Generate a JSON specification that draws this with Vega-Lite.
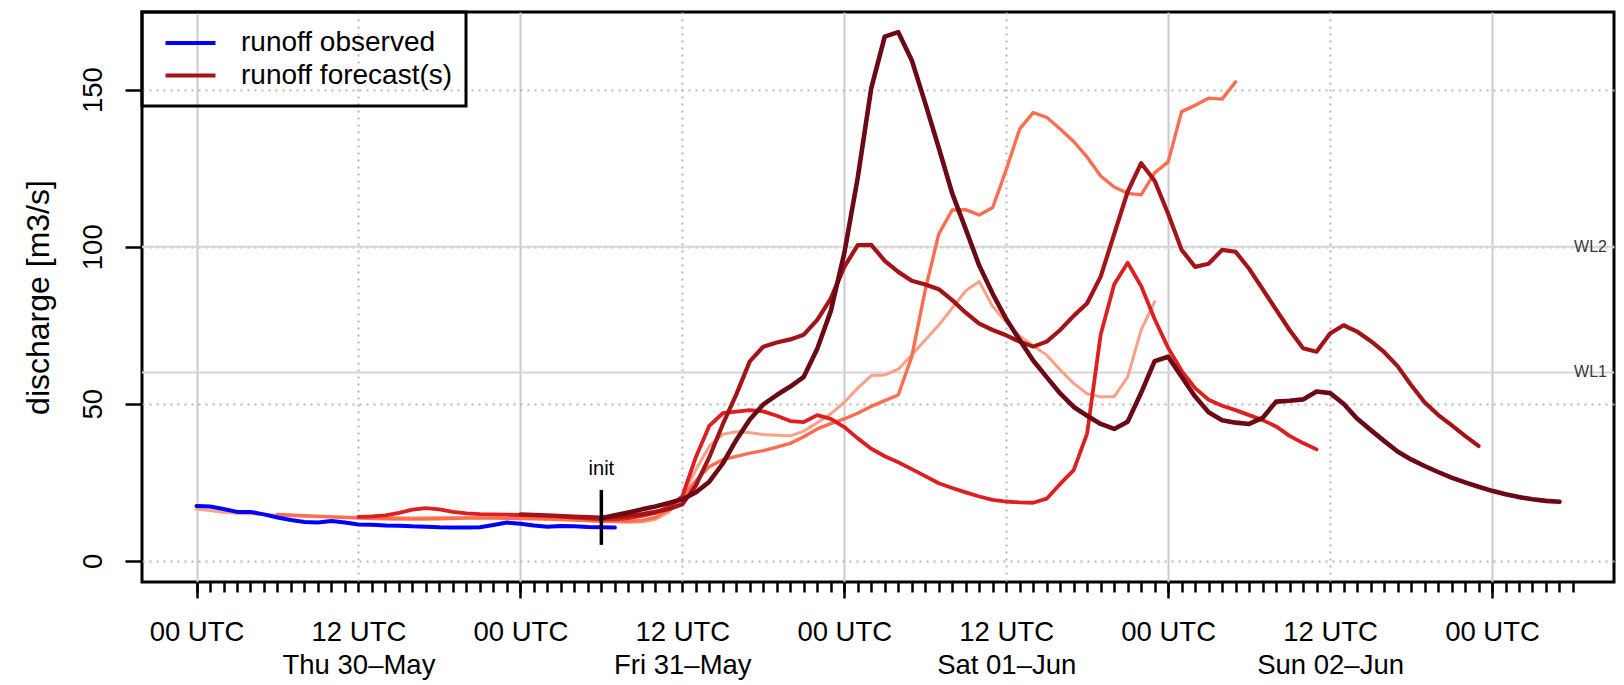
{
  "$schema": "https://vega.github.io/schema/vega-lite/v6.json",
  "width": 1472,
  "height": 570,
  "autosize": {"type": "none"},
  "padding": {"left": 142, "top": 12, "right": 10, "bottom": 103},
  "background": "white",
  "config": {
    "font": "Liberation Sans",
    "view": {"stroke": "black", "strokeWidth": 3},
    "legend": {"strokeWidth": 3}
  },
  "datasets": {
    "levels": [
      {"level": "WL1", "q": 60},
      {"level": "WL2", "q": 100}
    ],
    "init": [
      {"label": "init", "t": "2013-05-31T06:00Z", "lo": 5.1, "hi": 22.6}
    ],
    "series": [
      {"run":"E","t":"2013-05-30T00:00Z","q":16.5},{"run":"E","t":"2013-05-30T01:00Z","q":16.0},{"run":"E","t":"2013-05-30T02:00Z","q":15.5},{"run":"E","t":"2013-05-30T03:00Z","q":15.2},{"run":"E","t":"2013-05-30T04:00Z","q":15.0},{"run":"E","t":"2013-05-30T06:00Z","q":14.5},{"run":"E","t":"2013-05-30T08:00Z","q":14.1},{"run":"E","t":"2013-05-30T10:00Z","q":14.0},{"run":"E","t":"2013-05-30T12:00Z","q":13.9},{"run":"E","t":"2013-05-30T14:00Z","q":13.8},{"run":"E","t":"2013-05-30T16:00Z","q":13.7},{"run":"E","t":"2013-05-30T18:00Z","q":13.8},{"run":"E","t":"2013-05-30T20:00Z","q":13.8},{"run":"E","t":"2013-05-30T22:00Z","q":13.7},
      {"run":"E","t":"2013-05-31T00:00Z","q":13.6},{"run":"E","t":"2013-05-31T02:00Z","q":13.4},{"run":"E","t":"2013-05-31T04:00Z","q":13.1},{"run":"E","t":"2013-05-31T06:00Z","q":12.6},{"run":"E","t":"2013-05-31T08:00Z","q":12.3},{"run":"E","t":"2013-05-31T09:00Z","q":12.4},{"run":"E","t":"2013-05-31T10:00Z","q":13.2},{"run":"E","t":"2013-05-31T11:00Z","q":15.5},{"run":"E","t":"2013-05-31T12:00Z","q":20.5},{"run":"E","t":"2013-05-31T13:00Z","q":29},{"run":"E","t":"2013-05-31T14:00Z","q":36.5},{"run":"E","t":"2013-05-31T15:00Z","q":40.3},{"run":"E","t":"2013-05-31T16:00Z","q":41.1},{"run":"E","t":"2013-05-31T17:00Z","q":40.8},{"run":"E","t":"2013-05-31T18:00Z","q":40.2},{"run":"E","t":"2013-05-31T19:00Z","q":40.0},{"run":"E","t":"2013-05-31T20:00Z","q":39.8},{"run":"E","t":"2013-05-31T21:00Z","q":41.3},{"run":"E","t":"2013-05-31T22:00Z","q":44.0},{"run":"E","t":"2013-05-31T23:00Z","q":46.8},
      {"run":"E","t":"2013-06-01T00:00Z","q":50.5},{"run":"E","t":"2013-06-01T01:00Z","q":55},{"run":"E","t":"2013-06-01T02:00Z","q":59},{"run":"E","t":"2013-06-01T03:00Z","q":59.2},{"run":"E","t":"2013-06-01T04:00Z","q":61},{"run":"E","t":"2013-06-01T05:00Z","q":65.5},{"run":"E","t":"2013-06-01T06:00Z","q":70.3},{"run":"E","t":"2013-06-01T07:00Z","q":75},{"run":"E","t":"2013-06-01T08:00Z","q":80.5},{"run":"E","t":"2013-06-01T09:00Z","q":86},{"run":"E","t":"2013-06-01T10:00Z","q":88.9},{"run":"E","t":"2013-06-01T11:00Z","q":81},{"run":"E","t":"2013-06-01T12:00Z","q":76},{"run":"E","t":"2013-06-01T13:00Z","q":71.5},{"run":"E","t":"2013-06-01T14:00Z","q":68.5},{"run":"E","t":"2013-06-01T15:00Z","q":65.5},{"run":"E","t":"2013-06-01T16:00Z","q":60.8},{"run":"E","t":"2013-06-01T17:00Z","q":56.5},{"run":"E","t":"2013-06-01T18:00Z","q":53.2},{"run":"E","t":"2013-06-01T19:00Z","q":52.2},{"run":"E","t":"2013-06-01T20:00Z","q":52.3},{"run":"E","t":"2013-06-01T21:00Z","q":58.5},{"run":"E","t":"2013-06-01T22:00Z","q":73.5},{"run":"E","t":"2013-06-01T23:00Z","q":82.5},

      {"run":"D","t":"2013-05-30T06:00Z","q":14.8},{"run":"D","t":"2013-05-30T08:00Z","q":14.4},{"run":"D","t":"2013-05-30T10:00Z","q":14.0},{"run":"D","t":"2013-05-30T12:00Z","q":13.6},{"run":"D","t":"2013-05-30T14:00Z","q":13.4},{"run":"D","t":"2013-05-30T16:00Z","q":13.3},{"run":"D","t":"2013-05-30T18:00Z","q":13.4},{"run":"D","t":"2013-05-30T20:00Z","q":13.6},{"run":"D","t":"2013-05-30T22:00Z","q":13.6},
      {"run":"D","t":"2013-05-31T00:00Z","q":13.5},{"run":"D","t":"2013-05-31T02:00Z","q":13.3},{"run":"D","t":"2013-05-31T04:00Z","q":13.0},{"run":"D","t":"2013-05-31T06:00Z","q":12.6},{"run":"D","t":"2013-05-31T08:00Z","q":12.6},{"run":"D","t":"2013-05-31T09:00Z","q":12.9},{"run":"D","t":"2013-05-31T10:00Z","q":13.8},{"run":"D","t":"2013-05-31T11:00Z","q":16.5},{"run":"D","t":"2013-05-31T12:00Z","q":20.5},{"run":"D","t":"2013-05-31T13:00Z","q":25.5},{"run":"D","t":"2013-05-31T14:00Z","q":30},{"run":"D","t":"2013-05-31T15:00Z","q":32.2},{"run":"D","t":"2013-05-31T16:00Z","q":33.3},{"run":"D","t":"2013-05-31T17:00Z","q":34.3},{"run":"D","t":"2013-05-31T18:00Z","q":35.1},{"run":"D","t":"2013-05-31T19:00Z","q":36.2},{"run":"D","t":"2013-05-31T20:00Z","q":37.4},{"run":"D","t":"2013-05-31T21:00Z","q":39.5},{"run":"D","t":"2013-05-31T22:00Z","q":42},{"run":"D","t":"2013-05-31T23:00Z","q":43.7},
      {"run":"D","t":"2013-06-01T00:00Z","q":45.2},{"run":"D","t":"2013-06-01T01:00Z","q":47},{"run":"D","t":"2013-06-01T02:00Z","q":49.2},{"run":"D","t":"2013-06-01T03:00Z","q":51},{"run":"D","t":"2013-06-01T04:00Z","q":52.8},{"run":"D","t":"2013-06-01T05:00Z","q":65},{"run":"D","t":"2013-06-01T06:00Z","q":86.2},{"run":"D","t":"2013-06-01T07:00Z","q":104},{"run":"D","t":"2013-06-01T08:00Z","q":111.7},{"run":"D","t":"2013-06-01T09:00Z","q":111.8},{"run":"D","t":"2013-06-01T10:00Z","q":110.1},{"run":"D","t":"2013-06-01T11:00Z","q":112.5},{"run":"D","t":"2013-06-01T12:00Z","q":124.5},{"run":"D","t":"2013-06-01T13:00Z","q":137.5},{"run":"D","t":"2013-06-01T14:00Z","q":142.7},{"run":"D","t":"2013-06-01T15:00Z","q":141.2},{"run":"D","t":"2013-06-01T16:00Z","q":137.5},{"run":"D","t":"2013-06-01T17:00Z","q":133.5},{"run":"D","t":"2013-06-01T18:00Z","q":128.5},{"run":"D","t":"2013-06-01T19:00Z","q":122.5},{"run":"D","t":"2013-06-01T20:00Z","q":119},{"run":"D","t":"2013-06-01T21:00Z","q":117},{"run":"D","t":"2013-06-01T22:00Z","q":116.5},{"run":"D","t":"2013-06-01T23:00Z","q":123.5},
      {"run":"D","t":"2013-06-02T00:00Z","q":127},{"run":"D","t":"2013-06-02T01:00Z","q":143},{"run":"D","t":"2013-06-02T02:00Z","q":145},{"run":"D","t":"2013-06-02T03:00Z","q":147.3},{"run":"D","t":"2013-06-02T04:00Z","q":147},{"run":"D","t":"2013-06-02T05:00Z","q":152.5},

      {"run":"C","t":"2013-05-30T12:00Z","q":14.0},{"run":"C","t":"2013-05-30T13:00Z","q":14.2},{"run":"C","t":"2013-05-30T14:00Z","q":14.5},{"run":"C","t":"2013-05-30T15:00Z","q":15.3},{"run":"C","t":"2013-05-30T16:00Z","q":16.3},{"run":"C","t":"2013-05-30T17:00Z","q":16.8},{"run":"C","t":"2013-05-30T18:00Z","q":16.4},{"run":"C","t":"2013-05-30T19:00Z","q":15.6},{"run":"C","t":"2013-05-30T20:00Z","q":15.1},{"run":"C","t":"2013-05-30T21:00Z","q":14.9},{"run":"C","t":"2013-05-30T22:00Z","q":14.8},{"run":"C","t":"2013-05-30T23:00Z","q":14.7},
      {"run":"C","t":"2013-05-31T00:00Z","q":14.6},{"run":"C","t":"2013-05-31T02:00Z","q":14.3},{"run":"C","t":"2013-05-31T04:00Z","q":13.8},{"run":"C","t":"2013-05-31T06:00Z","q":13.2},{"run":"C","t":"2013-05-31T07:00Z","q":13.2},{"run":"C","t":"2013-05-31T08:00Z","q":13.6},{"run":"C","t":"2013-05-31T09:00Z","q":14.3},{"run":"C","t":"2013-05-31T10:00Z","q":15.3},{"run":"C","t":"2013-05-31T11:00Z","q":17.2},{"run":"C","t":"2013-05-31T12:00Z","q":20.5},{"run":"C","t":"2013-05-31T13:00Z","q":33},{"run":"C","t":"2013-05-31T14:00Z","q":43},{"run":"C","t":"2013-05-31T15:00Z","q":47},{"run":"C","t":"2013-05-31T16:00Z","q":47.5},{"run":"C","t":"2013-05-31T17:00Z","q":48},{"run":"C","t":"2013-05-31T18:00Z","q":47.6},{"run":"C","t":"2013-05-31T19:00Z","q":46.2},{"run":"C","t":"2013-05-31T20:00Z","q":44.5},{"run":"C","t":"2013-05-31T21:00Z","q":44.2},{"run":"C","t":"2013-05-31T22:00Z","q":46.4},{"run":"C","t":"2013-05-31T23:00Z","q":45.2},
      {"run":"C","t":"2013-06-01T00:00Z","q":42.6},{"run":"C","t":"2013-06-01T01:00Z","q":39},{"run":"C","t":"2013-06-01T02:00Z","q":35.7},{"run":"C","t":"2013-06-01T03:00Z","q":33.3},{"run":"C","t":"2013-06-01T04:00Z","q":31.4},{"run":"C","t":"2013-06-01T05:00Z","q":29.2},{"run":"C","t":"2013-06-01T06:00Z","q":27},{"run":"C","t":"2013-06-01T07:00Z","q":24.7},{"run":"C","t":"2013-06-01T08:00Z","q":23.2},{"run":"C","t":"2013-06-01T09:00Z","q":21.8},{"run":"C","t":"2013-06-01T10:00Z","q":20.5},{"run":"C","t":"2013-06-01T11:00Z","q":19.4},{"run":"C","t":"2013-06-01T12:00Z","q":18.9},{"run":"C","t":"2013-06-01T13:00Z","q":18.6},{"run":"C","t":"2013-06-01T14:00Z","q":18.5},{"run":"C","t":"2013-06-01T15:00Z","q":19.8},{"run":"C","t":"2013-06-01T16:00Z","q":24.5},{"run":"C","t":"2013-06-01T17:00Z","q":28.9},{"run":"C","t":"2013-06-01T18:00Z","q":40.6},{"run":"C","t":"2013-06-01T19:00Z","q":72},{"run":"C","t":"2013-06-01T20:00Z","q":88},{"run":"C","t":"2013-06-01T21:00Z","q":94.9},{"run":"C","t":"2013-06-01T22:00Z","q":87.5},{"run":"C","t":"2013-06-01T23:00Z","q":77},
      {"run":"C","t":"2013-06-02T00:00Z","q":67.8},{"run":"C","t":"2013-06-02T01:00Z","q":60.5},{"run":"C","t":"2013-06-02T02:00Z","q":55},{"run":"C","t":"2013-06-02T03:00Z","q":51.3},{"run":"C","t":"2013-06-02T04:00Z","q":49.4},{"run":"C","t":"2013-06-02T05:00Z","q":48},{"run":"C","t":"2013-06-02T06:00Z","q":46.4},{"run":"C","t":"2013-06-02T07:00Z","q":44.8},{"run":"C","t":"2013-06-02T08:00Z","q":42.8},{"run":"C","t":"2013-06-02T09:00Z","q":39.8},{"run":"C","t":"2013-06-02T10:00Z","q":37.5},{"run":"C","t":"2013-06-02T11:00Z","q":35.5},

      {"run":"B","t":"2013-05-31T00:00Z","q":14.8},{"run":"B","t":"2013-05-31T02:00Z","q":14.5},{"run":"B","t":"2013-05-31T04:00Z","q":14.1},{"run":"B","t":"2013-05-31T06:00Z","q":13.8},{"run":"B","t":"2013-05-31T07:00Z","q":14.0},{"run":"B","t":"2013-05-31T08:00Z","q":14.4},{"run":"B","t":"2013-05-31T09:00Z","q":14.9},{"run":"B","t":"2013-05-31T10:00Z","q":15.6},{"run":"B","t":"2013-05-31T11:00Z","q":16.5},{"run":"B","t":"2013-05-31T12:00Z","q":18},{"run":"B","t":"2013-05-31T13:00Z","q":24},{"run":"B","t":"2013-05-31T14:00Z","q":33},{"run":"B","t":"2013-05-31T15:00Z","q":43.5},{"run":"B","t":"2013-05-31T16:00Z","q":53},{"run":"B","t":"2013-05-31T17:00Z","q":63.5},{"run":"B","t":"2013-05-31T18:00Z","q":68.2},{"run":"B","t":"2013-05-31T19:00Z","q":69.5},{"run":"B","t":"2013-05-31T20:00Z","q":70.5},{"run":"B","t":"2013-05-31T21:00Z","q":72},{"run":"B","t":"2013-05-31T22:00Z","q":76.7},{"run":"B","t":"2013-05-31T23:00Z","q":83.5},
      {"run":"B","t":"2013-06-01T00:00Z","q":93.6},{"run":"B","t":"2013-06-01T01:00Z","q":100.5},{"run":"B","t":"2013-06-01T02:00Z","q":100.6},{"run":"B","t":"2013-06-01T03:00Z","q":95.5},{"run":"B","t":"2013-06-01T04:00Z","q":92},{"run":"B","t":"2013-06-01T05:00Z","q":89.2},{"run":"B","t":"2013-06-01T06:00Z","q":88},{"run":"B","t":"2013-06-01T07:00Z","q":86.5},{"run":"B","t":"2013-06-01T08:00Z","q":83},{"run":"B","t":"2013-06-01T09:00Z","q":79},{"run":"B","t":"2013-06-01T10:00Z","q":75.5},{"run":"B","t":"2013-06-01T11:00Z","q":73.5},{"run":"B","t":"2013-06-01T12:00Z","q":71.8},{"run":"B","t":"2013-06-01T13:00Z","q":69.8},{"run":"B","t":"2013-06-01T14:00Z","q":68.2},{"run":"B","t":"2013-06-01T15:00Z","q":69.8},{"run":"B","t":"2013-06-01T16:00Z","q":73.5},{"run":"B","t":"2013-06-01T17:00Z","q":78},{"run":"B","t":"2013-06-01T18:00Z","q":82},{"run":"B","t":"2013-06-01T19:00Z","q":90.5},{"run":"B","t":"2013-06-01T20:00Z","q":104},{"run":"B","t":"2013-06-01T21:00Z","q":117.5},{"run":"B","t":"2013-06-01T22:00Z","q":126.6},{"run":"B","t":"2013-06-01T23:00Z","q":121},
      {"run":"B","t":"2013-06-02T00:00Z","q":110.5},{"run":"B","t":"2013-06-02T01:00Z","q":99},{"run":"B","t":"2013-06-02T02:00Z","q":93.6},{"run":"B","t":"2013-06-02T03:00Z","q":94.6},{"run":"B","t":"2013-06-02T04:00Z","q":99},{"run":"B","t":"2013-06-02T05:00Z","q":98.4},{"run":"B","t":"2013-06-02T06:00Z","q":93},{"run":"B","t":"2013-06-02T07:00Z","q":86.5},{"run":"B","t":"2013-06-02T08:00Z","q":80},{"run":"B","t":"2013-06-02T09:00Z","q":73.5},{"run":"B","t":"2013-06-02T10:00Z","q":67.7},{"run":"B","t":"2013-06-02T11:00Z","q":66.6},{"run":"B","t":"2013-06-02T12:00Z","q":72.4},{"run":"B","t":"2013-06-02T13:00Z","q":75},{"run":"B","t":"2013-06-02T14:00Z","q":73},{"run":"B","t":"2013-06-02T15:00Z","q":70},{"run":"B","t":"2013-06-02T16:00Z","q":66.5},{"run":"B","t":"2013-06-02T17:00Z","q":62},{"run":"B","t":"2013-06-02T18:00Z","q":56},{"run":"B","t":"2013-06-02T19:00Z","q":50.5},{"run":"B","t":"2013-06-02T20:00Z","q":46.5},{"run":"B","t":"2013-06-02T21:00Z","q":43.2},{"run":"B","t":"2013-06-02T22:00Z","q":39.8},{"run":"B","t":"2013-06-02T23:00Z","q":36.6},

      {"run":"A","t":"2013-05-31T06:00Z","q":13.6},{"run":"A","t":"2013-05-31T07:00Z","q":14.5},{"run":"A","t":"2013-05-31T08:00Z","q":15.4},{"run":"A","t":"2013-05-31T09:00Z","q":16.4},{"run":"A","t":"2013-05-31T10:00Z","q":17.3},{"run":"A","t":"2013-05-31T11:00Z","q":18.4},{"run":"A","t":"2013-05-31T12:00Z","q":19.6},{"run":"A","t":"2013-05-31T13:00Z","q":21.8},{"run":"A","t":"2013-05-31T14:00Z","q":25.2},{"run":"A","t":"2013-05-31T15:00Z","q":31},{"run":"A","t":"2013-05-31T16:00Z","q":38.5},{"run":"A","t":"2013-05-31T17:00Z","q":45},{"run":"A","t":"2013-05-31T18:00Z","q":49.8},{"run":"A","t":"2013-05-31T19:00Z","q":52.8},{"run":"A","t":"2013-05-31T20:00Z","q":55.5},{"run":"A","t":"2013-05-31T21:00Z","q":58.6},{"run":"A","t":"2013-05-31T22:00Z","q":67.5},{"run":"A","t":"2013-05-31T23:00Z","q":79.5},
      {"run":"A","t":"2013-06-01T00:00Z","q":97.9},{"run":"A","t":"2013-06-01T01:00Z","q":122},{"run":"A","t":"2013-06-01T02:00Z","q":150.5},{"run":"A","t":"2013-06-01T03:00Z","q":166.9},{"run":"A","t":"2013-06-01T04:00Z","q":168.3},{"run":"A","t":"2013-06-01T05:00Z","q":159.4},{"run":"A","t":"2013-06-01T06:00Z","q":145.7},{"run":"A","t":"2013-06-01T07:00Z","q":131.5},{"run":"A","t":"2013-06-01T08:00Z","q":117},{"run":"A","t":"2013-06-01T09:00Z","q":105.6},{"run":"A","t":"2013-06-01T10:00Z","q":94},{"run":"A","t":"2013-06-01T11:00Z","q":85},{"run":"A","t":"2013-06-01T12:00Z","q":77},{"run":"A","t":"2013-06-01T13:00Z","q":70.3},{"run":"A","t":"2013-06-01T14:00Z","q":63.8},{"run":"A","t":"2013-06-01T15:00Z","q":58.5},{"run":"A","t":"2013-06-01T16:00Z","q":53.3},{"run":"A","t":"2013-06-01T17:00Z","q":49},{"run":"A","t":"2013-06-01T18:00Z","q":46.2},{"run":"A","t":"2013-06-01T19:00Z","q":43.6},{"run":"A","t":"2013-06-01T20:00Z","q":42},{"run":"A","t":"2013-06-01T21:00Z","q":44.3},{"run":"A","t":"2013-06-01T22:00Z","q":53.5},{"run":"A","t":"2013-06-01T23:00Z","q":63.6},
      {"run":"A","t":"2013-06-02T00:00Z","q":65},{"run":"A","t":"2013-06-02T01:00Z","q":58.6},{"run":"A","t":"2013-06-02T02:00Z","q":52.3},{"run":"A","t":"2013-06-02T03:00Z","q":47.3},{"run":"A","t":"2013-06-02T04:00Z","q":44.8},{"run":"A","t":"2013-06-02T05:00Z","q":44},{"run":"A","t":"2013-06-02T06:00Z","q":43.6},{"run":"A","t":"2013-06-02T07:00Z","q":45.5},{"run":"A","t":"2013-06-02T08:00Z","q":50.7},{"run":"A","t":"2013-06-02T09:00Z","q":51},{"run":"A","t":"2013-06-02T10:00Z","q":51.4},{"run":"A","t":"2013-06-02T11:00Z","q":53.9},{"run":"A","t":"2013-06-02T12:00Z","q":53.4},{"run":"A","t":"2013-06-02T13:00Z","q":50},{"run":"A","t":"2013-06-02T14:00Z","q":45.3},{"run":"A","t":"2013-06-02T15:00Z","q":41.7},{"run":"A","t":"2013-06-02T16:00Z","q":38.2},{"run":"A","t":"2013-06-02T17:00Z","q":34.8},{"run":"A","t":"2013-06-02T18:00Z","q":32.3},{"run":"A","t":"2013-06-02T19:00Z","q":30.2},{"run":"A","t":"2013-06-02T20:00Z","q":28.3},{"run":"A","t":"2013-06-02T21:00Z","q":26.5},{"run":"A","t":"2013-06-02T22:00Z","q":25},{"run":"A","t":"2013-06-02T23:00Z","q":23.6},
      {"run":"A","t":"2013-06-03T00:00Z","q":22.3},{"run":"A","t":"2013-06-03T01:00Z","q":21.2},{"run":"A","t":"2013-06-03T02:00Z","q":20.3},{"run":"A","t":"2013-06-03T03:00Z","q":19.6},{"run":"A","t":"2013-06-03T04:00Z","q":19.1},{"run":"A","t":"2013-06-03T05:00Z","q":18.8},

      {"run":"observed","t":"2013-05-30T00:00Z","q":17.5},{"run":"observed","t":"2013-05-30T01:00Z","q":17.3},{"run":"observed","t":"2013-05-30T02:00Z","q":16.5},{"run":"observed","t":"2013-05-30T03:00Z","q":15.6},{"run":"observed","t":"2013-05-30T04:00Z","q":15.6},{"run":"observed","t":"2013-05-30T05:00Z","q":14.8},{"run":"observed","t":"2013-05-30T06:00Z","q":13.8},{"run":"observed","t":"2013-05-30T07:00Z","q":13.0},{"run":"observed","t":"2013-05-30T08:00Z","q":12.4},{"run":"observed","t":"2013-05-30T09:00Z","q":12.2},{"run":"observed","t":"2013-05-30T10:00Z","q":12.7},{"run":"observed","t":"2013-05-30T11:00Z","q":12.2},{"run":"observed","t":"2013-05-30T12:00Z","q":11.6},{"run":"observed","t":"2013-05-30T13:00Z","q":11.5},{"run":"observed","t":"2013-05-30T14:00Z","q":11.3},{"run":"observed","t":"2013-05-30T15:00Z","q":11.2},{"run":"observed","t":"2013-05-30T16:00Z","q":11.0},{"run":"observed","t":"2013-05-30T17:00Z","q":10.9},{"run":"observed","t":"2013-05-30T18:00Z","q":10.7},{"run":"observed","t":"2013-05-30T19:00Z","q":10.6},{"run":"observed","t":"2013-05-30T20:00Z","q":10.6},{"run":"observed","t":"2013-05-30T21:00Z","q":10.7},{"run":"observed","t":"2013-05-30T22:00Z","q":11.4},{"run":"observed","t":"2013-05-30T23:00Z","q":12.2},
      {"run":"observed","t":"2013-05-31T00:00Z","q":11.8},{"run":"observed","t":"2013-05-31T01:00Z","q":11.3},{"run":"observed","t":"2013-05-31T02:00Z","q":10.9},{"run":"observed","t":"2013-05-31T03:00Z","q":11.1},{"run":"observed","t":"2013-05-31T04:00Z","q":11.0},{"run":"observed","t":"2013-05-31T05:00Z","q":10.8},{"run":"observed","t":"2013-05-31T06:00Z","q":10.7},{"run":"observed","t":"2013-05-31T07:00Z","q":10.6}
    ]
  },
  "layer": [
    {
      "data": {"name": "levels"},
      "mark": {"type": "rule", "color": "#d6d6da", "strokeWidth": 2},
      "encoding": {
        "y": {"field": "q", "type": "quantitative", "scale": {"domain": [-6.72, 174.72], "nice": false, "zero": false}, "axis": null}
      }
    },
    {
      "data": {"name": "levels"},
      "mark": {"type": "text", "align": "right", "baseline": "middle", "dx": -7, "fontSize": 16, "color": "#383838"},
      "encoding": {
        "x": {"value": "width"},
        "y": {"field": "q", "type": "quantitative", "scale": {"domain": [-6.72, 174.72], "nice": false, "zero": false}, "axis": null},
        "text": {"field": "level"}
      }
    },
    {
      "data": {"name": "series"},
      "mark": {"type": "line", "strokeJoin": "round", "strokeCap": "round"},
      "encoding": {
        "x": {
          "field": "t", "type": "temporal",
          "scale": {"type": "utc", "domain": [{"year": 2013, "month": 5, "date": 29, "hours": 19, "minutes": 57, "seconds": 36, "utc": true}, {"year": 2013, "month": 6, "date": 3, "hours": 9, "minutes": 2, "seconds": 24, "utc": true}], "nice": false},
          "axis": {
            "orient": "bottom",
            "tickCount": {"interval": "hours", "step": 1},
            "labels": false, "grid": false, "domain": false, "title": null,
            "tickSize": 10, "tickWidth": 2.5, "tickColor": "black",
            "tickOpacity": {"condition": {"test": "datum.value < 1369871000000 || datum.value > 1370240000000", "value": 0}, "value": 1}
          }
        },
        "y": {
          "field": "q", "type": "quantitative",
          "scale": {"domain": [-6.72, 174.72], "nice": false, "zero": false},
          "axis": {
            "values": [0, 50, 100, 150],
            "domain": false,
            "tickSize": 17, "tickWidth": 2.5, "tickColor": "black",
            "labelAngle": -90, "labelAlign": "center", "labelBaseline": "alphabetic",
            "labelPadding": 24, "labelFontSize": 27.5, "labelColor": "black",
            "grid": true, "gridDash": [2, 5], "gridColor": "#b4b4c4", "gridWidth": 2,
            "zindex": 0,
            "title": "discharge [m3/s]", "titleFontSize": 32, "titleFontWeight": "normal", "titleColor": "black",
            "titleAngle": -90, "titleX": -94, "titleY": 285, "titleAlign": "center", "titleBaseline": "alphabetic"
          }
        },
        "color": {
          "field": "run", "type": "nominal",
          "scale": {"domain": ["observed", "E", "D", "C", "B", "A"], "range": ["#0000ff", "#fca185", "#fb6e4f", "#dd1f1f", "#a31419", "#6b0a15"]},
          "legend": {
            "orient": "none", "legendX": 0, "legendY": 0,
            "title": " ", "titleOrient": "bottom", "titleFontSize": 2, "titlePadding": 1,
            "values": ["observed", "B"],
            "labelExpr": "datum.value == 'observed' ? 'runoff observed' : 'runoff forecast(s)'",
            "symbolType": "M-1.5625,0H1.5625", "symbolSize": 1024, "symbolStrokeWidth": 3, "symbolOpacity": 1,
            "labelFontSize": 28, "labelColor": "black", "labelLimit": 600,
            "padding": 13, "rowPadding": 0, "labelOffset": 32, "symbolOffset": 17,
            "strokeColor": "black"
          }
        },
        "strokeWidth": {
          "field": "run", "type": "nominal",
          "scale": {"type": "ordinal", "domain": ["observed", "E", "D", "C", "B", "A"], "range": [4.0, 3.0, 3.4, 3.8, 4.2, 4.6]},
          "legend": null
        }
      }
    },
    {
      "data": {"name": "init"},
      "mark": {"type": "rule", "color": "black", "strokeWidth": 3.5},
      "encoding": {
        "x": {
          "field": "t", "type": "temporal",
          "scale": {"type": "utc", "domain": [{"year": 2013, "month": 5, "date": 29, "hours": 19, "minutes": 57, "seconds": 36, "utc": true}, {"year": 2013, "month": 6, "date": 3, "hours": 9, "minutes": 2, "seconds": 24, "utc": true}], "nice": false},
          "axis": {
            "orient": "bottom",
            "tickCount": {"interval": "hours", "step": 12},
            "domain": false, "title": null,
            "tickSize": 16, "tickWidth": 2.5, "tickColor": "black",
            "tickOpacity": {"condition": {"test": "utchours(datum.value) == 0", "value": 1}, "value": 0},
            "labelExpr": "datum.value < 1369871000000 || datum.value > 1370218000000 ? '' : (utchours(datum.value) == 0 ? '00 UTC' : ['12 UTC', utcFormat(datum.value, '%a %d') + '–' + utcFormat(datum.value, '%b')])",
            "labelFontSize": 27.5, "labelColor": "black", "labelAlign": "center", "labelBaseline": "alphabetic",
            "labelPadding": 42, "labelLineHeight": 33, "labelOverlap": false, "labelFlush": false, "labelBound": false,
            "grid": true, "gridWidth": 2,
            "gridDash": {"condition": {"test": "utchours(datum.value) == 12", "value": [2, 5]}, "value": []},
            "gridColor": {"condition": {"test": "utchours(datum.value) == 12", "value": "#b4b4c4"}, "value": "#cacad4"},
            "zindex": 0
          }
        },
        "y": {"field": "lo", "type": "quantitative", "scale": {"domain": [-6.72, 174.72], "nice": false, "zero": false}, "axis": null},
        "y2": {"field": "hi"}
      }
    },
    {
      "data": {"name": "init"},
      "mark": {"type": "text", "align": "center", "baseline": "alphabetic", "dy": -15, "fontSize": 20, "color": "black"},
      "encoding": {
        "x": {"field": "t", "type": "temporal", "scale": {"type": "utc", "domain": [{"year": 2013, "month": 5, "date": 29, "hours": 19, "minutes": 57, "seconds": 36, "utc": true}, {"year": 2013, "month": 6, "date": 3, "hours": 9, "minutes": 2, "seconds": 24, "utc": true}], "nice": false}, "axis": null},
        "y": {"field": "hi", "type": "quantitative", "scale": {"domain": [-6.72, 174.72], "nice": false, "zero": false}, "axis": null},
        "text": {"field": "label"}
      }
    }
  ],
  "resolve": {"axis": {"x": "independent", "y": "independent"}}
}
